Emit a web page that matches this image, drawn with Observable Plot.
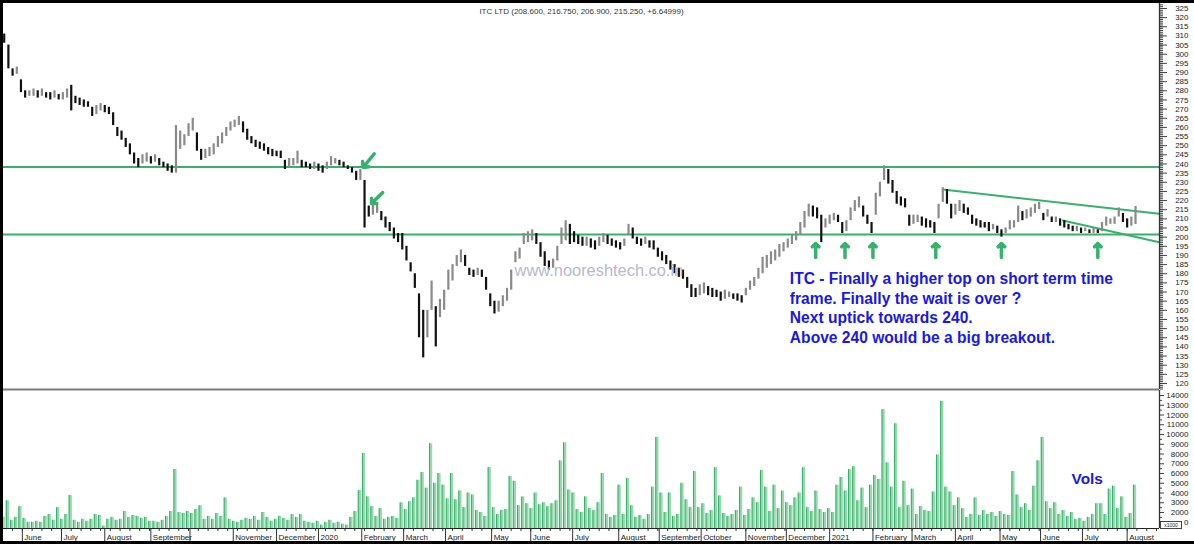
<!DOCTYPE html>
<html><head><meta charset="utf-8">
<script src="https://cdn.jsdelivr.net/npm/d3@7"></script>
<script src="https://cdn.jsdelivr.net/npm/@observablehq/plot@0.6"></script>
<style>
html,body{margin:0;padding:0;background:#fff;}
#wrap{position:relative;width:1194px;height:544px;overflow:hidden;background:#fff;font-family:"Liberation Sans",Arial,sans-serif;}
#wrap svg{position:absolute;left:0;overflow:visible}
.blk{position:absolute;background:#000}
#mult{position:absolute;left:1160px;top:521px;width:20px;height:6px;border:1px solid #444;background:#fff;font-size:5px;line-height:6px;text-align:center;color:#222}
</style></head><body>
<div id="wrap"></div>
<script>
// ---- data ----
// one sample every 3 calendar days starting 2019-05-21
const lo = [
306,292,288,289,279,276,277,277,276,277,
276,275,276,275,275,276,269,273,272,271,
271,266,267,269,268,267,261,255,253,249,
245,240,238,240,241,240,241,239,238,236,
235,235,248,250,255,258,247,242,243,244,
245,249,251,255,258,260,261,257,253,251,
249,248,247,245,244,244,243,237,238,239,
240,238,238,237,237,236,235,237,239,240,
239,238,237,235,231,231,205,211,212,213,
209,205,203,199,197,193,187,181,172,145,
134,145,160,140,156,160,171,176,184,186,
184,179,178,179,178,171,162,158,159,162,
165,171,186,188,196,197,198,196,189,184,
182,183,187,196,198,196,197,196,195,195,
194,193,195,197,196,195,194,193,195,201,
199,196,195,196,194,193,189,187,185,182,
180,178,177,172,167,167,168,169,168,167,
167,165,166,167,166,165,164,168,171,173,
177,180,183,185,187,189,192,194,196,198,
201,205,211,211,210,197,205,207,209,208,
202,203,209,214,216,211,207,202,212,222,
231,229,224,218,217,216,206,207,208,206,
205,205,202,210,219,218,210,212,214,213,
212,207,206,205,205,203,204,202,200,202,
204,205,208,209,210,211,213,215,209,211,
208,208,206,205,204,203,203,202,203,202,
202,202,203,206,207,207,211,208,205,206,
206.9];
const hi = [
311,305,292,293,286,280,280,281,280,281,
279,279,280,278,279,281,283,277,276,275,
274,271,272,273,272,271,268,260,258,254,
251,246,243,245,246,244,245,243,241,240,
239,261,258,256,262,265,257,248,248,249,
251,255,257,260,263,264,266,263,259,255,
253,252,251,249,248,247,247,242,243,243,
247,242,241,240,241,240,239,241,244,243,
242,241,239,238,236,237,231,217,218,218,
214,211,208,205,202,202,195,186,180,169,
160,160,176,162,166,171,182,185,190,193,
190,183,182,183,182,178,169,165,165,168,
172,182,192,194,202,203,204,202,197,192,
187,188,195,205,209,207,203,201,200,200,
199,198,200,202,201,199,198,197,199,207,
205,200,199,200,198,198,194,192,190,187,
185,183,182,178,174,172,174,175,173,172,
171,170,171,170,169,169,168,172,176,178,
183,189,190,192,193,196,197,199,201,203,
208,214,218,217,216,212,210,212,213,212,
208,209,216,220,222,217,212,208,224,230,
239,237,231,225,222,221,212,212,212,211,
210,209,208,218,227,226,218,218,220,218,
216,212,210,209,208,208,207,206,204,205,
209,209,217,214,215,216,218,219,213,215,
211,211,210,209,207,206,206,205,205,204,
205,204,208,211,210,211,216,213,210,211,
216.75];
const vol = [
1500,3200,1200,1500,2600,1400,1000,1000,1100,1000,
1600,1800,1200,2500,1300,1800,3750,1200,1000,1300,
1100,1300,1800,1700,600,1300,1500,1200,1300,2100,
1500,1700,1600,1400,1500,1100,1100,1000,1200,1600,
2100,6400,2000,1900,2100,1900,2300,2700,1300,1600,
1300,1900,1600,3500,1300,1100,1000,1200,1400,1300,
1600,1200,2000,1500,1100,1300,1600,1400,1200,1800,
1500,1800,1100,1000,900,1100,700,1000,1200,900,
1000,800,700,1500,2100,4250,8050,3600,2600,1600,
2400,1300,1500,1600,1400,3000,2300,3100,3500,5300,
6100,4500,9050,5000,6000,4800,3400,6000,3300,4200,
2500,4000,3800,2200,2000,1600,6600,2500,1800,2200,
2300,5700,5200,2700,3600,2900,2400,4000,2800,3000,
2600,2900,3200,7300,9150,4300,4000,2300,2000,3600,
2400,2200,3000,6000,1800,1500,1700,4800,1800,5500,
2700,1500,1700,1300,1800,4600,9700,4000,2000,4000,
1600,1800,5000,3300,2500,6200,2500,2900,1900,2200,
6600,3700,1900,1600,1800,2200,4600,1700,2300,3500,
3000,6300,4600,2100,4800,2400,4200,3000,2700,3500,
4000,6600,2500,2100,4200,2300,2000,2400,2000,4800,
5600,4200,6400,6700,3200,4500,2500,4800,5800,5400,
12550,7100,4600,11100,2500,5200,2700,4400,1800,2600,
2200,2100,4100,7900,13400,4600,4100,2700,3500,2400,
1500,1800,3500,1700,2200,1800,2000,1600,2100,1800,
1700,6200,3800,2500,2900,2200,4700,7300,9700,3100,
2400,3000,1800,2200,1600,2000,1300,1400,1100,1500,
1800,2900,2900,1800,4400,4700,2400,3600,1500,1900,
4800];

const levels = [238.3, 201.5];
const trendUpper = [["2021-03-23", 226.0], ["2021-08-25", 212.8]];
const trendLower = [["2021-06-17", 209.1], ["2021-08-25", 197.2]];
const upArrowDates = ["2020-12-22", "2021-01-12", "2021-02-01", "2021-03-18", "2021-05-04", "2021-07-12"];
const upArrowFrom = 188.9, upArrowTo = 196.5;
const downArrows = [["2020-02-10", 245.6, "2020-02-02", 238.1], ["2020-02-16", 224.4, "2020-02-08", 218.4]];

const monthTicks = ["2019-06-03","2019-07-01","2019-08-01","2019-09-03","2019-10-01","2019-11-01","2019-12-02",
  "2020-01-01","2020-02-01","2020-03-02","2020-04-01","2020-05-04","2020-06-01","2020-07-01","2020-08-03",
  "2020-09-01","2020-10-01","2020-11-02","2020-12-01","2021-01-01","2021-02-01","2021-03-01","2021-04-01",
  "2021-05-03","2021-06-01","2021-07-01","2021-08-02"];
const monthLabels = ["June","July","August","September","","November","December",
  "2020","February","March","April","May","June","July","August",
  "September","October","November","December","2021","February","March","April",
  "May","June","July","August"];
const priceTicks = d3.range(120, 326, 5);
const volTicks = d3.range(1000, 14001, 1000);

const title = "ITC LTD (208.600, 216.750, 206.900, 215.250, +6.64999)";
const note = "ITC - Finally a higher top on short term time\nframe. Finally the wait is over ?\nNext uptick towards 240.\nAbove 240 would be a big breakout.";
const notePos = {date: "2020-12-03T12:00", price: 182.0};
const watermark = {text: "www.nooreshtech.co.in", date: "2020-07-19T19:00", price: 181.5};
const volsLabel = {text: "Vols", date: "2021-06-23T05:00", vol: 5385};

// ---- build ----
const D = s => new Date(s.length === 10 ? s + "T00:00Z" : s + "Z");
const X0 = new Date(Date.UTC(2019, 4, 20, 12)), X1 = new Date(Date.UTC(2021, 7, 25, 4));
const start = new Date(Date.UTC(2019, 4, 21));
const bars = hi.map((h, i) => ({
  date: d3.utcDay.offset(start, 3 * i), lo: lo[i], hi: h,
  up: i > 0 && (h + lo[i]) >= (hi[i - 1] + lo[i - 1])
}));
const vbars = vol.map((v, i) => {
  const d = d3.utcDay.offset(start, 3 * i);
  return {x1: d3.utcHour.offset(d, -36), x2: d3.utcHour.offset(d, 36), v};
});
const GREEN = "#36b26c", BLUE = "#1717ee";
const FONT = "'Liberation Sans', Arial, sans-serif";
const priceDomain = [116.72, 327.73];
const volDomain = [359, 14513];
const monthDates = monthTicks.map(D);
const labelMap = new Map(monthDates.map((d, i) => [+d, monthLabels[i]]));

const price = Plot.plot({
  width: 1194, height: 390, marginTop: 3, marginBottom: 1, marginLeft: 3, marginRight: 35,
  style: {background: "transparent", fontFamily: FONT, fontSize: "8px", overflow: "visible"},
  x: {type: "utc", domain: [X0, X1], axis: null},
  y: {domain: priceDomain, axis: null},
  marks: [
    Plot.ruleY(levels, {stroke: GREEN, strokeWidth: 2}),
    Plot.line(trendUpper.map(([d, p]) => ({date: D(d), p})), {x: "date", y: "p", stroke: GREEN, strokeWidth: 2}),
    Plot.line(trendLower.map(([d, p]) => ({date: D(d), p})), {x: "date", y: "p", stroke: GREEN, strokeWidth: 2}),
    Plot.ruleX(bars.filter(d => d.up), {x: "date", y1: "lo", y2: "hi", stroke: "#8a8a8a", strokeWidth: 2.2}),
    Plot.ruleX(bars.filter(d => !d.up), {x: "date", y1: "lo", y2: "hi", stroke: "#111", strokeWidth: 2.2}),
    Plot.arrow(upArrowDates.map(d => ({date: D(d)})), {x1: "date", x2: "date", y1: () => upArrowFrom, y2: () => upArrowTo,
      stroke: GREEN, strokeWidth: 3.5, headLength: 8, headAngle: 90}),
    Plot.arrow(downArrows.map(([a, b, c, e]) => ({xa: D(a), ya: b, xb: D(c), yb: e})), {x1: "xa", y1: "ya", x2: "xb", y2: "yb",
      stroke: GREEN, strokeWidth: 3.5, headLength: 8, headAngle: 90}),
    Plot.text([watermark], {x: d => D(d.date), y: "price", text: "text", fill: "#b6bacb", fontSize: 16.4, textAnchor: "middle", lineAnchor: "middle"}),
    Plot.text([{...notePos, text: note}], {x: d => D(d.date), y: "price", text: "text", fill: BLUE, fontSize: 15.6, fontWeight: "bold",
      textAnchor: "start", lineAnchor: "top", lineHeight: 1.256}),
    Plot.text([title], {frameAnchor: "top", dy: 4.7, lineAnchor: "top", fontSize: 8, fill: "#333"}),
    Plot.axisY({anchor: "right", ticks: d3.range(117, 328, 1), tickSize: 3, tickFormat: () => "", label: null, stroke: "#444"}),
    Plot.axisY({anchor: "right", ticks: priceTicks, tickSize: 7, tickPadding: 22, textAnchor: "end", fontSize: 8,
      tickFormat: d => String(d), label: null, stroke: "#444", fill: "#222"}),
    Plot.ruleX([X1], {stroke: "#333", strokeWidth: 1.3}),
    Plot.ruleY([priceDomain[0]], {stroke: "#7c7c7c", strokeWidth: 2})
  ]
});
price.style.top = "0px";

const volume = Plot.plot({
  width: 1194, height: 154, marginTop: 0, marginBottom: 16, marginLeft: 3, marginRight: 35,
  style: {background: "transparent", fontFamily: FONT, fontSize: "8px", overflow: "visible"},
  x: {type: "utc", domain: [X0, X1], axis: null},
  y: {domain: volDomain, axis: null},
  marks: [
    Plot.rectY(vbars, {x1: "x1", x2: "x2", y: "v", fill: "#95d9ad", insetRight: 1, clip: true}),
    Plot.ruleX(vbars, {x: "x1", y: "v", stroke: "#32b068", strokeWidth: 1, clip: true}),
    Plot.text([volsLabel], {x: d => D(d.date), y: "vol", text: "text", fill: BLUE, fontSize: 15.4, fontWeight: "bold", textAnchor: "start", lineAnchor: "middle"}),
    Plot.ruleY([volDomain[0]], {stroke: "#222", strokeWidth: 1}),
    Plot.axisX({ticks: d3.utcMonday.range(X0, X1), tickSize: 3, tickFormat: () => "", label: null, stroke: "#333"}),
    Plot.axisX({ticks: monthDates, tickSize: 13, tickFormat: () => "", label: null, stroke: "#333"}),
    Plot.axisX({ticks: monthDates, tickSize: 0, tickPadding: 5.5, tickFormat: d => labelMap.get(+d), textAnchor: "start", dx: 2,
      fontSize: 8, label: null, fill: "#222"}),
    Plot.axisY({anchor: "right", ticks: d3.range(1500, 14001, 1000), tickSize: 2, tickFormat: () => "", label: null, stroke: "#444"}),
    // the lowest label is covered by the multiplier box in the original; only its last digit shows
    Plot.axisY({anchor: "right", ticks: volTicks, tickSize: 4, tickPadding: 25, textAnchor: "end", fontSize: 8,
      tickFormat: d => d === 1000 ? "0" : String(d), label: null, stroke: "#444", fill: "#222"}),
    Plot.ruleX([X1], {stroke: "#333", strokeWidth: 1.3})
  ]
});
volume.style.top = "390px";

const wrap = document.getElementById("wrap");
wrap.appendChild(price);
wrap.appendChild(volume);
const mult = document.createElement("div");
mult.id = "mult"; mult.textContent = "x1000";
wrap.appendChild(mult);
for (const [l, t, w, h] of [[0, 0, 1194, 3], [0, 0, 3, 544], [0, 541, 1194, 3]]) {
  const b = document.createElement("div");
  b.className = "blk";
  Object.assign(b.style, {left: l + "px", top: t + "px", width: w + "px", height: h + "px"});
  wrap.appendChild(b);
}
</script></body></html>
